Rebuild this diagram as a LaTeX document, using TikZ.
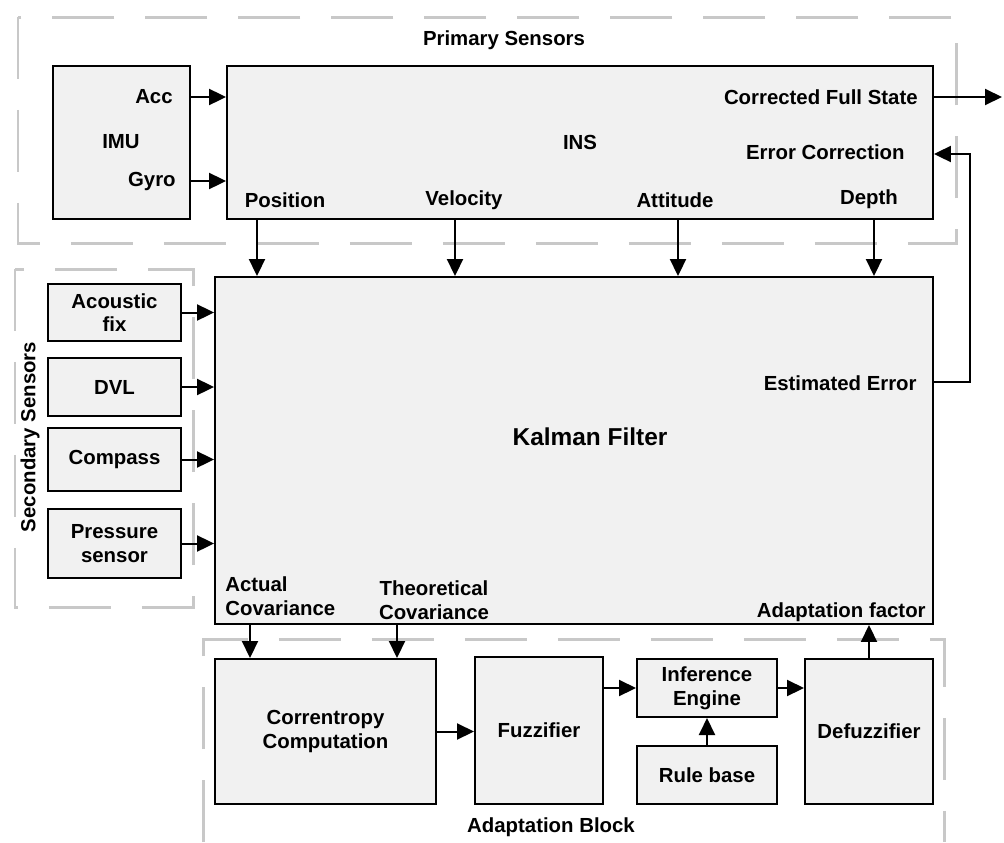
\documentclass[tikz,border=0pt]{standalone}
\usepackage{fontspec}
\setmainfont{Liberation Sans}
\usetikzlibrary{arrows.meta}
\definecolor{boxfill}{HTML}{F1F1F1}
\definecolor{dashgray}{HTML}{C8C8C8}
\begin{document}
\begin{tikzpicture}[x=0.02cm,y=-0.02cm,
 blk/.style={draw=black, line width=0.04cm, fill=boxfill, inner sep=0pt, align=center, font=\fontsize{11.6}{13.5}\selectfont\bfseries},
 lbl/.style={font=\fontsize{11.6}{13.5}\selectfont\bfseries, inner sep=0pt, align=center},
 arr/.style={line width=0.04cm, -{Triangle[length=0.34cm,width=0.32cm]}},
 grp/.style={draw=dashgray, line width=0.06cm, dash pattern=on 1.24cm off 0.62cm},
]
\useasboundingbox (0,0) rectangle (1004,842);
% groups
\draw[grp] (18,17) rectangle (956,243);
\draw[grp] (15,269) rectangle (193,607);
\draw[grp] (203,842) -- (203,639) -- (944,639) -- (944,842);
% blocks
\node[blk, minimum width=2.74cm, minimum height=3.06cm] (imu) at (121.5,142.5) {};
\node[blk, minimum width=14.12cm, minimum height=3.06cm] (ins) at (580,142.5) {};
\node[blk, minimum width=14.36cm, minimum height=6.94cm] (kf) at (574,450.5) {};
\node[blk, minimum width=2.66cm, minimum height=1.14cm] (ac) at (114.5,312.5) {Acoustic\\fix};
\node[blk, minimum width=2.66cm, minimum height=1.16cm] (dvl) at (114.5,387) {DVL};
\node[blk, minimum width=2.66cm, minimum height=1.26cm] (cmp) at (114.5,459.5) {Compass};
\node[blk, minimum width=2.66cm, minimum height=1.38cm] (prs) at (114.5,543.5) {Pressure\\sensor};
\node[blk, minimum width=4.42cm, minimum height=2.90cm] (corr) at (325.5,731.5) {Correntropy\\Computation};
\node[blk, minimum width=2.56cm, minimum height=2.94cm] (fuz) at (539,730.5) {Fuzzifier};
\node[blk, minimum width=2.80cm, minimum height=1.16cm] (inf) at (707,688) {Inference\\Engine};
\node[blk, minimum width=2.80cm, minimum height=1.16cm] (rule) at (707,775) {Rule base};
\node[blk, minimum width=2.56cm, minimum height=2.90cm] (dfz) at (869,731.5) {Defuzzifier};
% labels
\node[lbl] (tprim) at (504,40) {Primary Sensors};
\node[lbl, anchor=east] (tacc) at (173,97) {Acc};
\node[lbl] (timu) at (121,142) {IMU};
\node[lbl, anchor=east] (tgyro) at (176,181) {Gyro};
\node[lbl] (tins) at (580,142) {INS};
\node[lbl, anchor=east] (tcfs) at (918,97) {Corrected Full State};
\node[lbl, anchor=east] (tec) at (905,152) {Error Correction};
\node[lbl] (tpos) at (285,200) {Position};
\node[lbl] (tvel) at (464,200) {Velocity};
\node[lbl] (tatt) at (675,200) {Attitude};
\node[lbl] (tdep) at (869,199) {Depth};
\node[lbl, font=\fontsize{13.9}{16}\selectfont\bfseries] (tkf) at (590,437) {Kalman Filter};
\node[lbl, anchor=east] (test) at (917,383) {Estimated Error};
\node[lbl, anchor=west, align=left] (tact) at (225,596) {Actual\\Covariance};
\node[lbl] (tthe) at (434,600) {Theoretical\\Covariance};
\node[lbl, anchor=east] (tadf) at (926,612) {Adaptation factor};
\node[lbl] (tadb) at (551,827) {Adaptation Block};
\node[lbl, rotate=90] (tsec) at (30,437) {Secondary Sensors};
% helper coordinates
\coordinate (yacc) at (0,97);
\coordinate (ygyro) at (0,181);
\coordinate (out) at (1002,97);
\coordinate (xpos) at (257,0);
\coordinate (xvel) at (455,0);
\coordinate (xatt) at (678,0);
\coordinate (xdep) at (874,0);
\coordinate (yest) at (0,382);
\coordinate (yec) at (0,154);
\coordinate (fb) at (970,382);
\coordinate (xact) at (250,0);
\coordinate (xthe) at (397,0);
% connectors
\draw[arr] (imu.east |- yacc) -- (ins.west |- yacc);
\draw[arr] (imu.east |- ygyro) -- (ins.west |- ygyro);
\draw[arr] (ins.east |- out) -- (out);
\draw[arr] (ins.south -| xpos) -- (kf.north -| xpos);
\draw[arr] (ins.south -| xvel) -- (kf.north -| xvel);
\draw[arr] (ins.south -| xatt) -- (kf.north -| xatt);
\draw[arr] (ins.south -| xdep) -- (kf.north -| xdep);
\draw[arr] (kf.east |- yest) -- (fb) |- (ins.east |- yec);
\draw[arr] (ac.east) -- (kf.west |- ac.east);
\draw[arr] (dvl.east) -- (kf.west |- dvl.east);
\draw[arr] (cmp.east) -- (kf.west |- cmp.east);
\draw[arr] (prs.east) -- (kf.west |- prs.east);
\draw[arr] (kf.south -| xact) -- (corr.north -| xact);
\draw[arr] (kf.south -| xthe) -- (corr.north -| xthe);
\draw[arr] (corr.east) -- (fuz.west |- corr.east);
\draw[arr] (fuz.east |- inf.west) -- (inf.west);
\draw[arr] (inf.east) -- (dfz.west |- inf.east);
\draw[arr] (rule.north) -- (inf.south);
\draw[arr] (dfz.north) -- (kf.south -| dfz.north);
\end{tikzpicture}
\end{document}
